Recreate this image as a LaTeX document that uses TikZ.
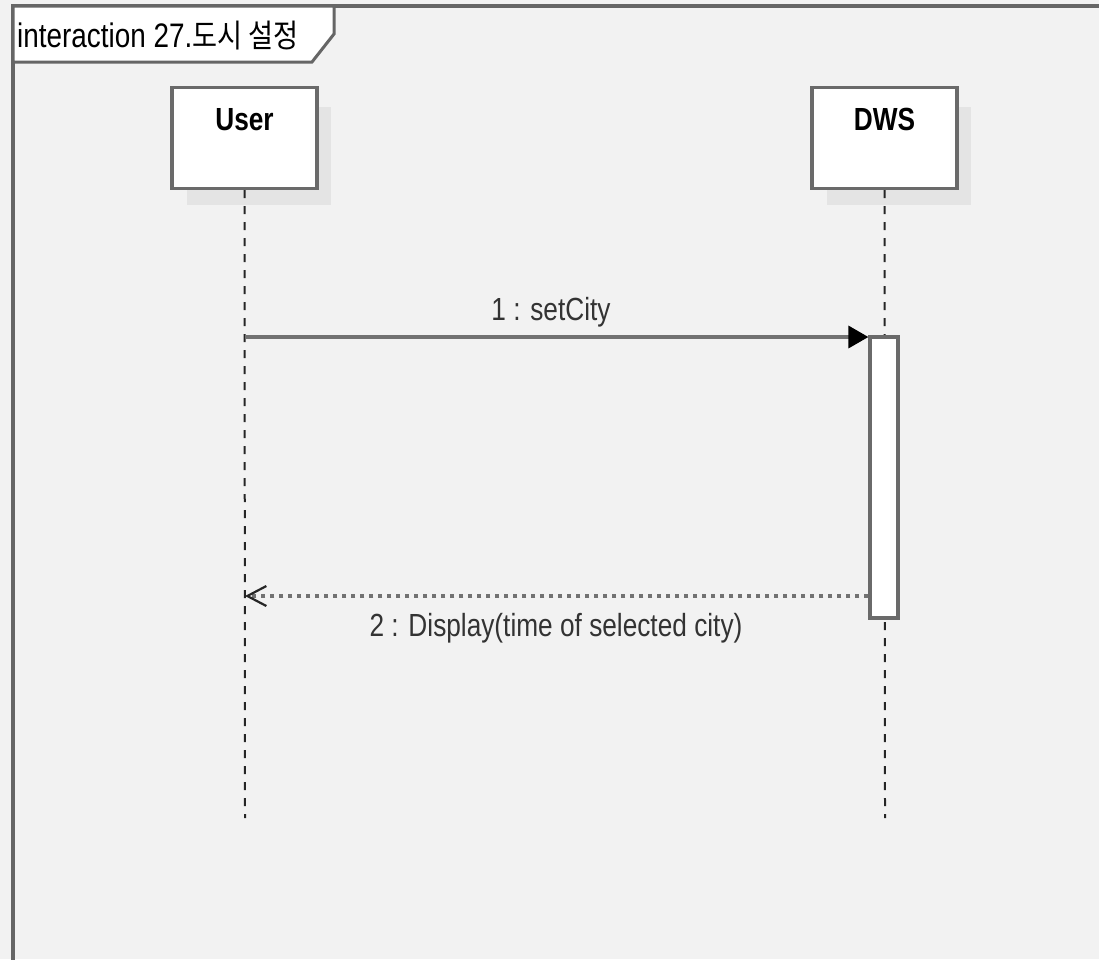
\documentclass[tikz,border=0pt]{standalone}
\usepackage{fontspec}
\setmainfont[FakeStretch=0.82]{Liberation Sans}
\newfontfamily\krfont[FakeStretch=0.85]{Noto Sans CJK KR}
\usetikzlibrary{arrows.meta,calc}

\definecolor{bgc}{HTML}{F2F2F2}
\definecolor{framec}{HTML}{666666}
\definecolor{boxc}{HTML}{6A6A6A}
\definecolor{shadowc}{HTML}{E4E4E4}
\definecolor{msgc}{HTML}{727272}
\definecolor{txtc}{HTML}{333333}

\tikzset{
  lifebox/.style={draw=boxc, fill=white, line width=3.2pt, minimum width=145pt,
    minimum height=101pt, inner sep=0pt},
  boxname/.style={anchor=base, font=\fontsize{32}{36}\selectfont\bfseries, text=black},
  lifeline/.style={draw=black!85, line width=2pt, dash pattern=on 8pt off 8pt},
  actbar/.style={draw=boxc, fill=white, line width=3.2pt, minimum width=28pt,
    minimum height=281pt, inner sep=0pt},
  callmsg/.style={draw=msgc, line width=3.4pt,
    -{Triangle[length=20pt,width=22pt,color=black]}},
  retmsg/.style={draw=msgc, line width=3.6pt, dash pattern=on 4pt off 5pt,
    -{Straight Barb[length=19pt,width=20pt,line width=2.2pt,color=black!85]}},
  msglabel/.style={anchor=base, font=\fontsize{32}{36}\selectfont, text=txtc},
}

\begin{document}
\begin{tikzpicture}[x=1pt,y=-1pt]
  \useasboundingbox (0,0) rectangle (1099,959);
  \fill[bgc] (0,0) rectangle (1099,959);

  % interaction frame
  \draw[framec, line width=3.4pt] (1110,6) -- (13,6) -- (13,975);
  \draw[framec, line width=3pt, fill=white, line join=miter]
    (13,6) -- (334,6) -- (334,34) -- (312,62) -- (13,62) -- cycle;
  \node[anchor=base west, inner sep=0pt, font=\fontsize{34}{38}\selectfont, text=black]
    (frametitle) at (17,47) {interaction 27.{\krfont\fontsize{32}{34}\selectfont 도시 설정}};

  % lifeline heads
  \coordinate (userpos) at (244.5,138);
  \coordinate (dwspos) at (884.5,138);
  \fill[shadowc] ($(userpos)+(-57.5,-31)$) rectangle ($(userpos)+(86.5,67)$);
  \fill[shadowc] ($(dwspos)+(-57.5,-31)$) rectangle ($(dwspos)+(86.5,67)$);
  \node[lifebox] (user) at (userpos) {};
  \node[lifebox] (dws) at (dwspos) {};
  \node[boxname] (userlbl) at ($(user.north)+(0,45)$) {User};
  \node[boxname] (dwslbl) at ($(dws.north)+(0,45)$) {DWS};

  % lifelines
  \coordinate (userend) at (245,818);
  \coordinate (dwsend) at (885,818);
  \draw[lifeline] (user.south) -- (userend);
  \draw[lifeline] (dws.south) -- (dwsend);

  % activation of DWS
  \node[actbar] (act) at (884,477.5) {};

  % 1 : setCity
  \coordinate (m1start) at (245,337);
  \draw[callmsg] (m1start) -- (act.north west |- m1start);
  \node[msglabel] (m1lbl) at (551,320) {1 : setCity};

  % 2 : reply
  \coordinate (m2end) at (245,596);
  \draw[retmsg] (act.west |- m2end) -- (m2end);
  \node[msglabel] (m2lbl) at (556,636) {2 : Display(time of selected city)};
\end{tikzpicture}
\end{document}
